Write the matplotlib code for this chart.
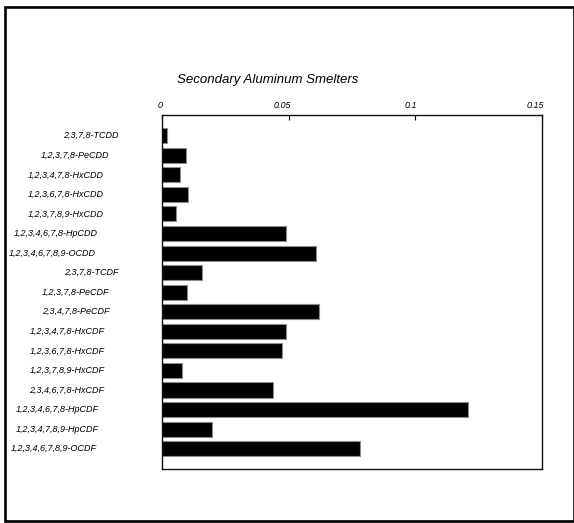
import numpy as np
import matplotlib
matplotlib.use('Agg')
import matplotlib.pyplot as plt
from matplotlib.patches import Rectangle
from matplotlib.transforms import blended_transform_factory, ScaledTranslation

# Congener emission fractions, secondary aluminum smelters
congeners = [
    '2,3,7,8-TCDD', '1,2,3,7,8-PeCDD', '1,2,3,4,7,8-HxCDD', '1,2,3,6,7,8-HxCDD',
    '1,2,3,7,8,9-HxCDD', '1,2,3,4,6,7,8-HpCDD', '1,2,3,4,6,7,8,9-OCDD',
    '2,3,7,8-TCDF', '1,2,3,7,8-PeCDF', '2,3,4,7,8-PeCDF', '1,2,3,4,7,8-HxCDF',
    '1,2,3,6,7,8-HxCDF', '1,2,3,7,8,9-HxCDF', '2,3,4,6,7,8-HxCDF',
    '1,2,3,4,6,7,8-HpCDF', '1,2,3,4,7,8,9-HpCDF', '1,2,3,4,6,7,8,9-OCDF',
]
values = [0.0021, 0.0096, 0.0071, 0.0103, 0.0055, 0.0489, 0.0608,
          0.0157, 0.0099, 0.0618, 0.0489, 0.0473, 0.0078, 0.0439,
          0.1206, 0.0196, 0.0781]
xticks = [0, 0.05, 0.1, 0.15]
xtick_labels = ['0', '0.05', '0.1', '0.15']

W, H = 574, 523
fig = plt.figure(figsize=(W / 100, H / 100), dpi=100)
ax = fig.add_axes([162 / W, 1 - 469 / H, (542 - 162) / W, (469 - 115) / H])

ypos = np.arange(len(congeners))
ax.barh(ypos, values, height=0.77, color='black', edgecolor='#8c8c8c', linewidth=0.8)
ax.set_xlim(0, 0.15)
ax.set_ylim(17.04, -1.06)
ax.set_yticks([])
ax.set_xticks(xticks)
ax.xaxis.set_ticks_position('top')
ax.tick_params(axis='x', direction='in', length=3.5, width=0.8,
               labeltop=False, labelbottom=False)
for s in ax.spines.values():
    s.set_linewidth(1.0)
    s.set_color('#111111')

font = dict(family=['Liberation Sans', 'DejaVu Sans'], style='italic', size=6.5)

fig.canvas.draw()
renderer = fig.canvas.get_renderer()
squeeze = 1.71  # labels sit offset by a stretched width estimate

ylab_tr = blended_transform_factory(ax.transAxes, ax.transData)
for i, name in enumerate(congeners):
    t = ax.text(0, i, name, transform=ylab_tr, ha='left', va='center', **font)
    w = t.get_window_extent(renderer).width
    t.set_transform(ylab_tr + ScaledTranslation(-(4.4 + squeeze * w) / fig.dpi, 0,
                                                fig.dpi_scale_trans))

xlab_tr = blended_transform_factory(ax.transData, ax.transAxes)
for v, lab in zip(xticks, xtick_labels):
    t = ax.text(v, 1, lab, transform=xlab_tr, ha='left', va='baseline', **font)
    w = t.get_window_extent(renderer).width
    t.set_transform(xlab_tr + ScaledTranslation(-(squeeze / 2) * w / fig.dpi, 7.3 / fig.dpi,
                                                fig.dpi_scale_trans))

fig.text(177 / W, 1 - 83 / H, 'Secondary Aluminum Smelters', ha='left', va='baseline',
         family=['Liberation Sans', 'DejaVu Sans'], style='italic', size=9.5)

# outer frame
fig.add_artist(Rectangle((4.7 / W, 1 - 521.3 / H), (574.3 - 4.7) / W, (521.3 - 6.5) / H,
                         transform=fig.transFigure, fill=False, lw=1.9, ec='black'))

fig.savefig('out.png', dpi=100)
